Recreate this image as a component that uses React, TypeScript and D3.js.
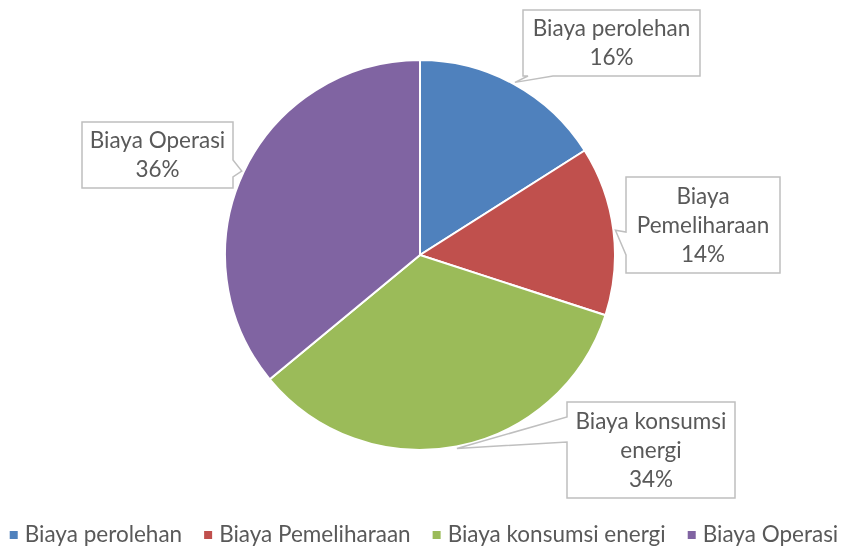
import React, { useRef, useEffect } from 'react';
import * as d3 from 'd3';

// chart values
const categories = ['Biaya perolehan', 'Biaya Pemeliharaan', 'Biaya konsumsi energi', 'Biaya Operasi'];
const values = [16, 14, 34, 36];
const labelLines = [['Biaya perolehan'], ['Biaya', 'Pemeliharaan'], ['Biaya konsumsi', 'energi'], ['Biaya Operasi']];
const colors = ['#4F81BD', '#C0504D', '#9BBB59', '#8064A2'];

const W = 844;
const H = 548;
const FONT = 'Lato, "Open Sans", sans-serif';
const FS = 22.5;

// callout boxes: rect + which side the pointer leaves from
const boxes = [
  { x: 523, y: 10, w: 177, h: 66, side: 'bottom', b0: 528, b1: 553 },
  { x: 626, y: 177, w: 154, h: 96, side: 'left', b0: 232, b1: 255 },
  { x: 567, y: 402, w: 168, h: 96, side: 'left', b0: 417, b1: 442 },
  { x: 82, y: 122, w: 151, h: 66, side: 'right', b0: 160, b1: 177 },
];

const calloutPath = (b, tip) => {
  const x0 = b.x, y0 = b.y, x1 = b.x + b.w, y1 = b.y + b.h;
  const p = d3.path();
  p.moveTo(x0, y0);
  p.lineTo(x1, y0);
  if (b.side === 'right') {
    p.lineTo(x1, b.b0);
    p.lineTo(tip[0], tip[1]);
    p.lineTo(x1, b.b1);
  }
  p.lineTo(x1, y1);
  if (b.side === 'bottom') {
    p.lineTo(b.b1, y1);
    p.lineTo(tip[0], tip[1]);
    p.lineTo(b.b0, y1);
  }
  p.lineTo(x0, y1);
  if (b.side === 'left') {
    p.lineTo(x0, b.b1);
    p.lineTo(tip[0], tip[1]);
    p.lineTo(x0, b.b0);
  }
  p.closePath();
  return p.toString();
};

const PieChart = () => {
  const svgRef = useRef(null);

  useEffect(() => {
    const svg = d3.select(svgRef.current);
    svg.selectAll('*').remove();

    const cx = 420, cy = 255, r = 195;
    const pie = d3.pie().sort(null).value((d) => d);
    const arcs = pie(values);
    const arc = d3.arc().innerRadius(0).outerRadius(r);

    const g = svg.append('g').attr('transform', `translate(${cx},${cy})`);
    g.selectAll('path')
      .data(arcs)
      .join('path')
      .attr('d', arc)
      .attr('fill', (d, i) => colors[i])
      .attr('stroke', '#fff')
      .attr('stroke-width', 2);

    // callouts
    arcs.forEach((a, i) => {
      const mid = (a.startAngle + a.endAngle) / 2;
      const tip = [cx + (r + 2) * Math.sin(mid), cy - (r + 2) * Math.cos(mid)];
      const b = boxes[i];
      svg.append('path')
        .attr('d', calloutPath(b, tip))
        .attr('fill', '#fff')
        .attr('stroke', '#BFBFBF')
        .attr('stroke-width', 1.5);
      const lines = [...labelLines[i], d3.format('.0%')(values[i] / 100)];
      const lh = 29;
      const top = b.y + b.h / 2 - (lines.length * lh) / 2;
      lines.forEach((t, j) => {
        svg.append('text')
          .attr('x', b.x + b.w / 2)
          .attr('y', top + lh * j + lh / 2)
          .attr('dy', '0.35em')
          .attr('text-anchor', 'middle')
          .attr('font-family', FONT)
          .attr('font-size', FS)
          .attr('fill', '#595959')
          .text(t);
      });
    });

    // legend
    const lg = svg.append('g');
    let x = 0;
    const gap = 22;
    categories.forEach((c, i) => {
      const item = lg.append('g').attr('transform', `translate(${x},0)`);
      item.append('rect').attr('x', 0).attr('y', -11).attr('width', 8).attr('height', 8).attr('fill', colors[i]);
      const t = item.append('text')
        .attr('x', 15)
        .attr('y', 0)
        .attr('font-family', FONT)
        .attr('font-size', FS)
        .attr('fill', '#595959')
        .text(c);
      const w = t.node().getComputedTextLength();
      x += 15 + w + gap;
    });
    const total = x - gap;
    lg.attr('transform', `translate(${(W - total) / 2 + 2},542)`);
  }, []);

  return (
    <svg ref={svgRef} width={W} height={H} style={{ display: 'block', position: 'fixed', left: 0, top: 0 }} />
  );
};

export default function App() {
  return <PieChart />;
}
